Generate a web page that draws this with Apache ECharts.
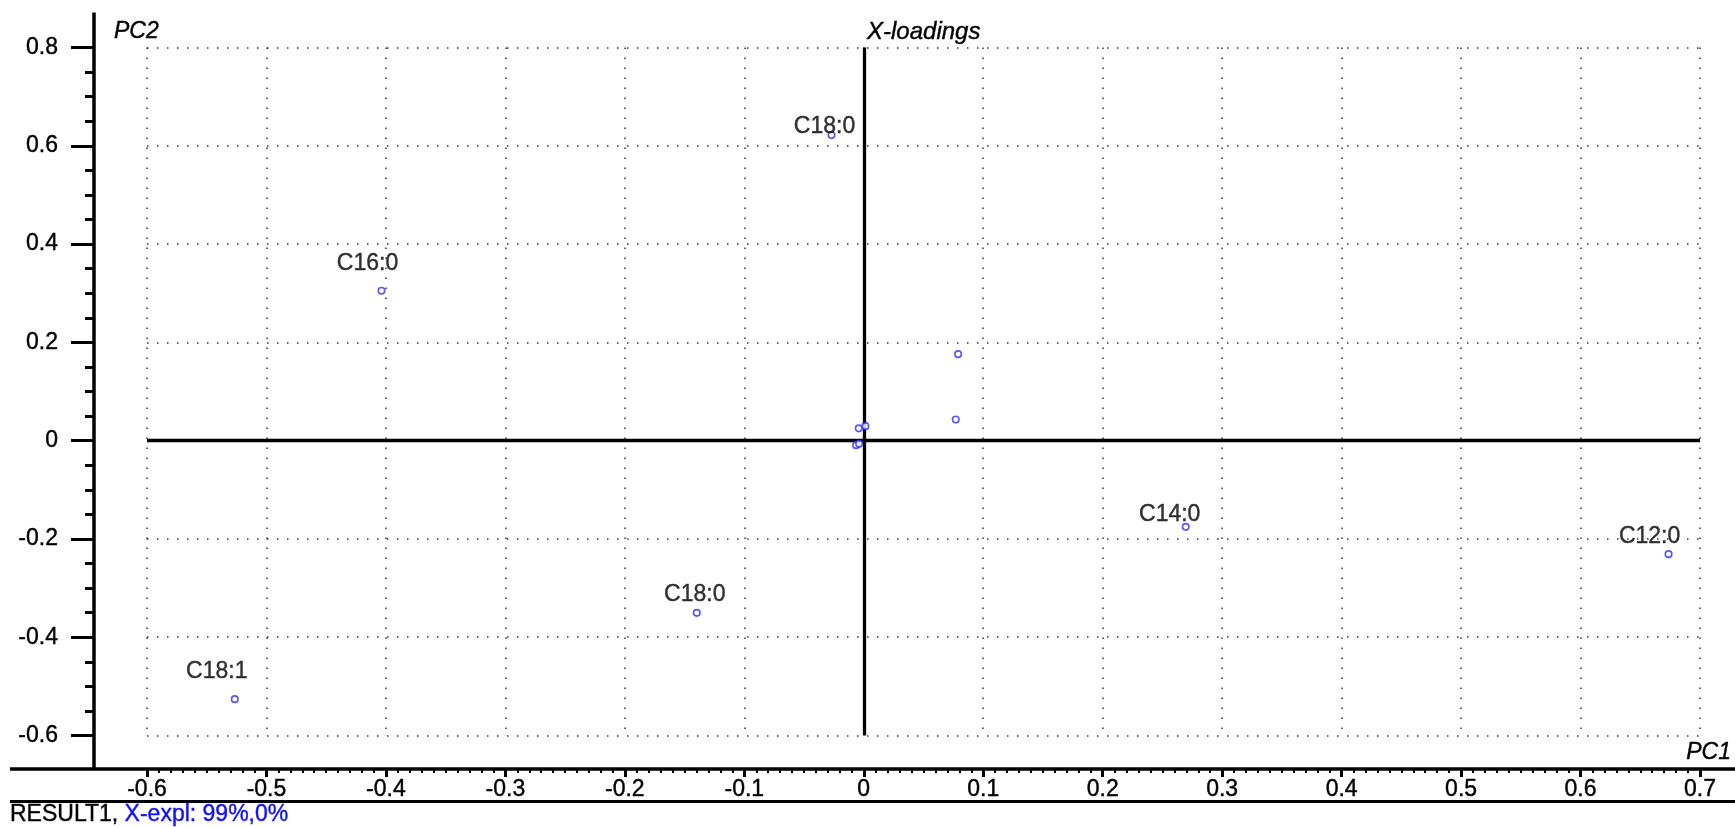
<!DOCTYPE html>
<html><head><meta charset="utf-8">
<script src="https://cdn.jsdelivr.net/npm/echarts@6/dist/echarts.min.js"></script>
<style>html,body{margin:0;padding:0;background:#fff}#c{width:1735px;height:827px}</style>
</head><body><div id="c"></div>
<script>
// ---- data ----
const pointNames = ['C18:1','C16:0','C18:0','C18:0','','','','','','','C14:0','C12:0'];
const pc1Values  = [-0.5265,-0.4037,-0.1398,-0.027,-0.0064,-0.0039,-0.0042,0.0014,0.077,0.079,0.2695,0.6737];
const pc2Values  = [-0.526,0.305,-0.3504,0.6217,-0.0092,-0.0065,0.025,0.0295,0.043,0.176,-0.1754,-0.231];
const xRange = {min:-0.6, max:0.7, step:0.1};
const yRange = {min:-0.6, max:0.8, step:0.2};
const xAxisTitle = 'PC1';
const yAxisTitle = 'PC2';
const plotTitle = 'X-loadings';
const footerName = 'RESULT1, ';
const footerExpl = 'X-expl: 99%,0%';

// ---- label nudges (style only) ----
const labelNudge = [[-18,-27],[-14,-27],[-2,-18],[-7,-8],[0,0],[0,0],[0,0],[0,0],[0,0],[0,0],[-16,-12],[-19,-18]];

const FONT = "'Liberation Sans', Arial, sans-serif";
const chart = echarts.init(document.getElementById('c'), null, {renderer:'canvas'});
const fmt = v => String(Math.round(v*10)/10);
const dotted = {color:'#333', width:1.5, type:[1.5,8.5]};
const heavy = {textBorderColor:'#000', textBorderWidth:0.4};

const data = pc1Values.map((x,i) => ({
  name: pointNames[i],
  value: [x, pc2Values[i]],
  label: {show: pointNames[i] !== '', offset: labelNudge[i]}
}));

const Y_OFF = 53, X_OFF = 33.5;

chart.setOption({
  animation:false,
  grid:{left:147, right:35, top:47.5, bottom:91.5, containLabel:false},
  xAxis:{type:'value', min:xRange.min, max:xRange.max, interval:xRange.step, offset:X_OFF,
    axisLine:{show:false, onZero:false},
    axisTick:{show:true, length:8, lineStyle:{color:'#000', width:3}},
    minorTick:{show:true, splitNumber:10, length:4, lineStyle:{color:'#000', width:2}},
    axisLabel:Object.assign({margin:9, color:'#000', fontSize:23, fontFamily:FONT, formatter:fmt}, heavy),
    splitLine:{show:true, lineStyle:dotted}
  },
  yAxis:{type:'value', min:yRange.min, max:yRange.max, interval:yRange.step, offset:Y_OFF,
    axisLine:{show:false, onZero:false},
    axisTick:{show:true, length:23, lineStyle:{color:'#000', width:3}},
    minorTick:{show:true, splitNumber:4, length:9, lineStyle:{color:'#000', width:3}},
    axisLabel:Object.assign({margin:36, color:'#000', fontSize:23, fontFamily:FONT, formatter:fmt}, heavy),
    splitLine:{show:true, lineStyle:dotted}
  },
  series:[{
    type:'scatter', data:data, symbol:'circle', symbolSize:6.5, z:5,
    itemStyle:{color:'#fff', borderColor:'#2a2aff', borderWidth:1.6},
    label:Object.assign({position:'inside', formatter:'{b}', color:'#000', fontSize:23, fontFamily:FONT}, heavy),
    emphasis:{disabled:true},
    markLine:{silent:true, symbol:['none','none'], label:{show:false}, animation:false,
      lineStyle:{color:'#000', width:3.3, type:'solid'},
      emphasis:{disabled:true},
      data:[{xAxis:0},{yAxis:0}]}
  }]
});

const p0 = chart.convertToPixel({gridIndex:0}, [xRange.min, yRange.min]);
const W = chart.getWidth();
const yLineX = p0[0] - Y_OFF;
const xLineY = p0[1] + X_OFF;
const tf = (sz, it) => (it ? 'italic ' : '') + sz + 'px ' + FONT;
chart.setOption({
  graphic:[
    {type:'line', shape:{x1:yLineX, y1:12.5, x2:yLineX, y2:xLineY}, style:{stroke:'#000', lineWidth:3.5}, silent:true},
    {type:'line', shape:{x1:10, y1:xLineY, x2:W, y2:xLineY}, style:{stroke:'#000', lineWidth:3.5}, silent:true},
    {type:'line', shape:{x1:10, y1:xLineY+32.5, x2:W, y2:xLineY+32.5}, style:{stroke:'#000', lineWidth:3}, silent:true},
    {type:'text', x:114, y:32, style:{text:yAxisTitle, font:tf(23,true), fill:'#000', textVerticalAlign:'middle', stroke:'#000', lineWidth:0.4}, silent:true},
    {type:'text', x:867, y:32, style:{text:plotTitle, font:tf(24,true), fill:'#000', textVerticalAlign:'middle', stroke:'#000', lineWidth:0.4}, silent:true},
    {type:'text', x:1731, y:753, style:{text:xAxisTitle, font:tf(23,true), fill:'#000', textAlign:'right', textVerticalAlign:'middle', stroke:'#000', lineWidth:0.4}, silent:true},
    {type:'text', x:10, y:815, style:{text:'{a|'+footerName+'}{b|'+footerExpl+'}', font:tf(23), textVerticalAlign:'middle',
      rich:{a:{fill:'#000', font:tf(23), stroke:'#000', lineWidth:0.4}, b:{fill:'#1010ff', font:tf(23), stroke:'#1010ff', lineWidth:0.4}}}, silent:true}
  ]
});
</script></body></html>
